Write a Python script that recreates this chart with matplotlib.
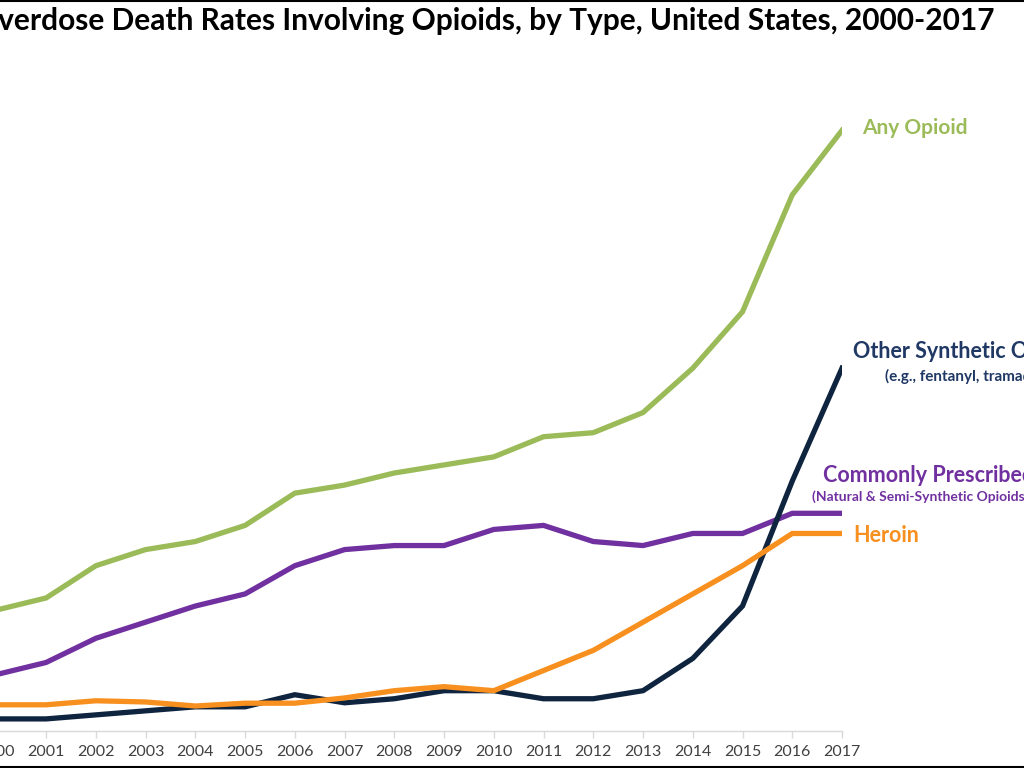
import matplotlib.pyplot as plt
from matplotlib.lines import Line2D

years = list(range(2000, 2018))
any_opioid = [3.0, 3.3, 4.1, 4.5, 4.7, 5.1, 5.9, 6.1, 6.4, 6.6, 6.8, 7.3, 7.4, 7.9, 9.0, 10.4, 13.3, 14.9]
prescribed = [1.4, 1.7, 2.3, 2.7, 3.1, 3.4, 4.1, 4.5, 4.6, 4.6, 5.0, 5.1, 4.7, 4.6, 4.9, 4.9, 5.4, 5.4]
synthetic = [0.3, 0.3, 0.4, 0.5, 0.6, 0.6, 0.9, 0.7, 0.8, 1.0, 1.0, 0.8, 0.8, 1.0, 1.8, 3.1, 6.2, 9.0]
heroin = [0.65, 0.65, 0.75, 0.72, 0.62, 0.69, 0.69, 0.82, 1.0, 1.1, 1.0, 1.5, 2.0, 2.7, 3.4, 4.1, 4.9, 4.9]

GREEN = '#9BBB59'
PURPLE = '#7030A0'
NAVY = '#0F243E'
ORANGE = '#F7901E'

plt.rcParams['font.family'] = ['Lato', 'DejaVu Sans']

W, H = 1024, 768
fig = plt.figure(figsize=(W / 100, H / 100), dpi=100)

# axes placed so the left edge falls off the figure (reference is cropped)
px_left, px_right = -28.5, 842
px_zero, px_top = 731, 86
ax = fig.add_axes([px_left / W, (H - px_zero) / H,
                   (px_right - px_left) / W, (px_zero - px_top) / H])

lw = 3.8
ax.plot(years, any_opioid, color=GREEN, lw=lw, solid_joinstyle='miter')
ax.plot(years, prescribed, color=PURPLE, lw=lw, solid_joinstyle='miter')
ax.plot(years, synthetic, color=NAVY, lw=lw, solid_joinstyle='miter')
ax.plot(years, heroin, color=ORANGE, lw=lw, solid_joinstyle='miter')

ax.set_xlim(1999.5, 2017)
ax.set_ylim(0, 16)
ax.set_xticks(years)
ax.set_xticklabels([str(y) for y in years], fontsize=11.5, color='#404040')
ax.set_yticks([])
for s in ['top', 'right', 'left']:
    ax.spines[s].set_visible(False)
ax.spines['bottom'].set_color('#D9D9D9')
ax.spines['bottom'].set_linewidth(1.0)
ax.tick_params(axis='x', length=5, width=1, color='#D9D9D9', pad=5)

def fx(px):
    return px / W

def fy(py):
    return 1 - py / H

fig.text(fx(995), fy(21), 'Overdose Death Rates Involving Opioids, by Type, United States, 2000-2017',
         ha='right', va='center', fontsize=21.5, fontweight='bold', color='black')

fig.text(fx(862), fy(128), 'Any Opioid', ha='left', va='center',
         fontsize=15, fontweight='bold', color=GREEN)
fig.text(fx(853), fy(352), 'Other Synthetic Opioids', ha='left', va='center',
         fontsize=15.5, fontweight='bold', color='#1F3864')
fig.text(fx(885), fy(376), '(e.g., fentanyl, tramadol)', ha='left', va='center',
         fontsize=11, fontweight='bold', color='#1F3864')
fig.text(fx(823), fy(475), 'Commonly Prescribed Opioids', ha='left', va='center',
         fontsize=15.5, fontweight='bold', color=PURPLE)
fig.text(fx(812), fy(497), '(Natural & Semi-Synthetic Opioids and Methadone)', ha='left', va='center',
         fontsize=10, fontweight='bold', color=PURPLE)
fig.text(fx(853), fy(535), 'Heroin', ha='left', va='center',
         fontsize=15.5, fontweight='bold', color=ORANGE)

# frame lines at top and bottom of the slide
fig.add_artist(Line2D([0, 1], [1 - 1 / H, 1 - 1 / H], color='black', lw=1.5, transform=fig.transFigure))
fig.add_artist(Line2D([0, 1], [1 / H, 1 / H], color='black', lw=1.5, transform=fig.transFigure))

fig.savefig('out.png', dpi=100)
